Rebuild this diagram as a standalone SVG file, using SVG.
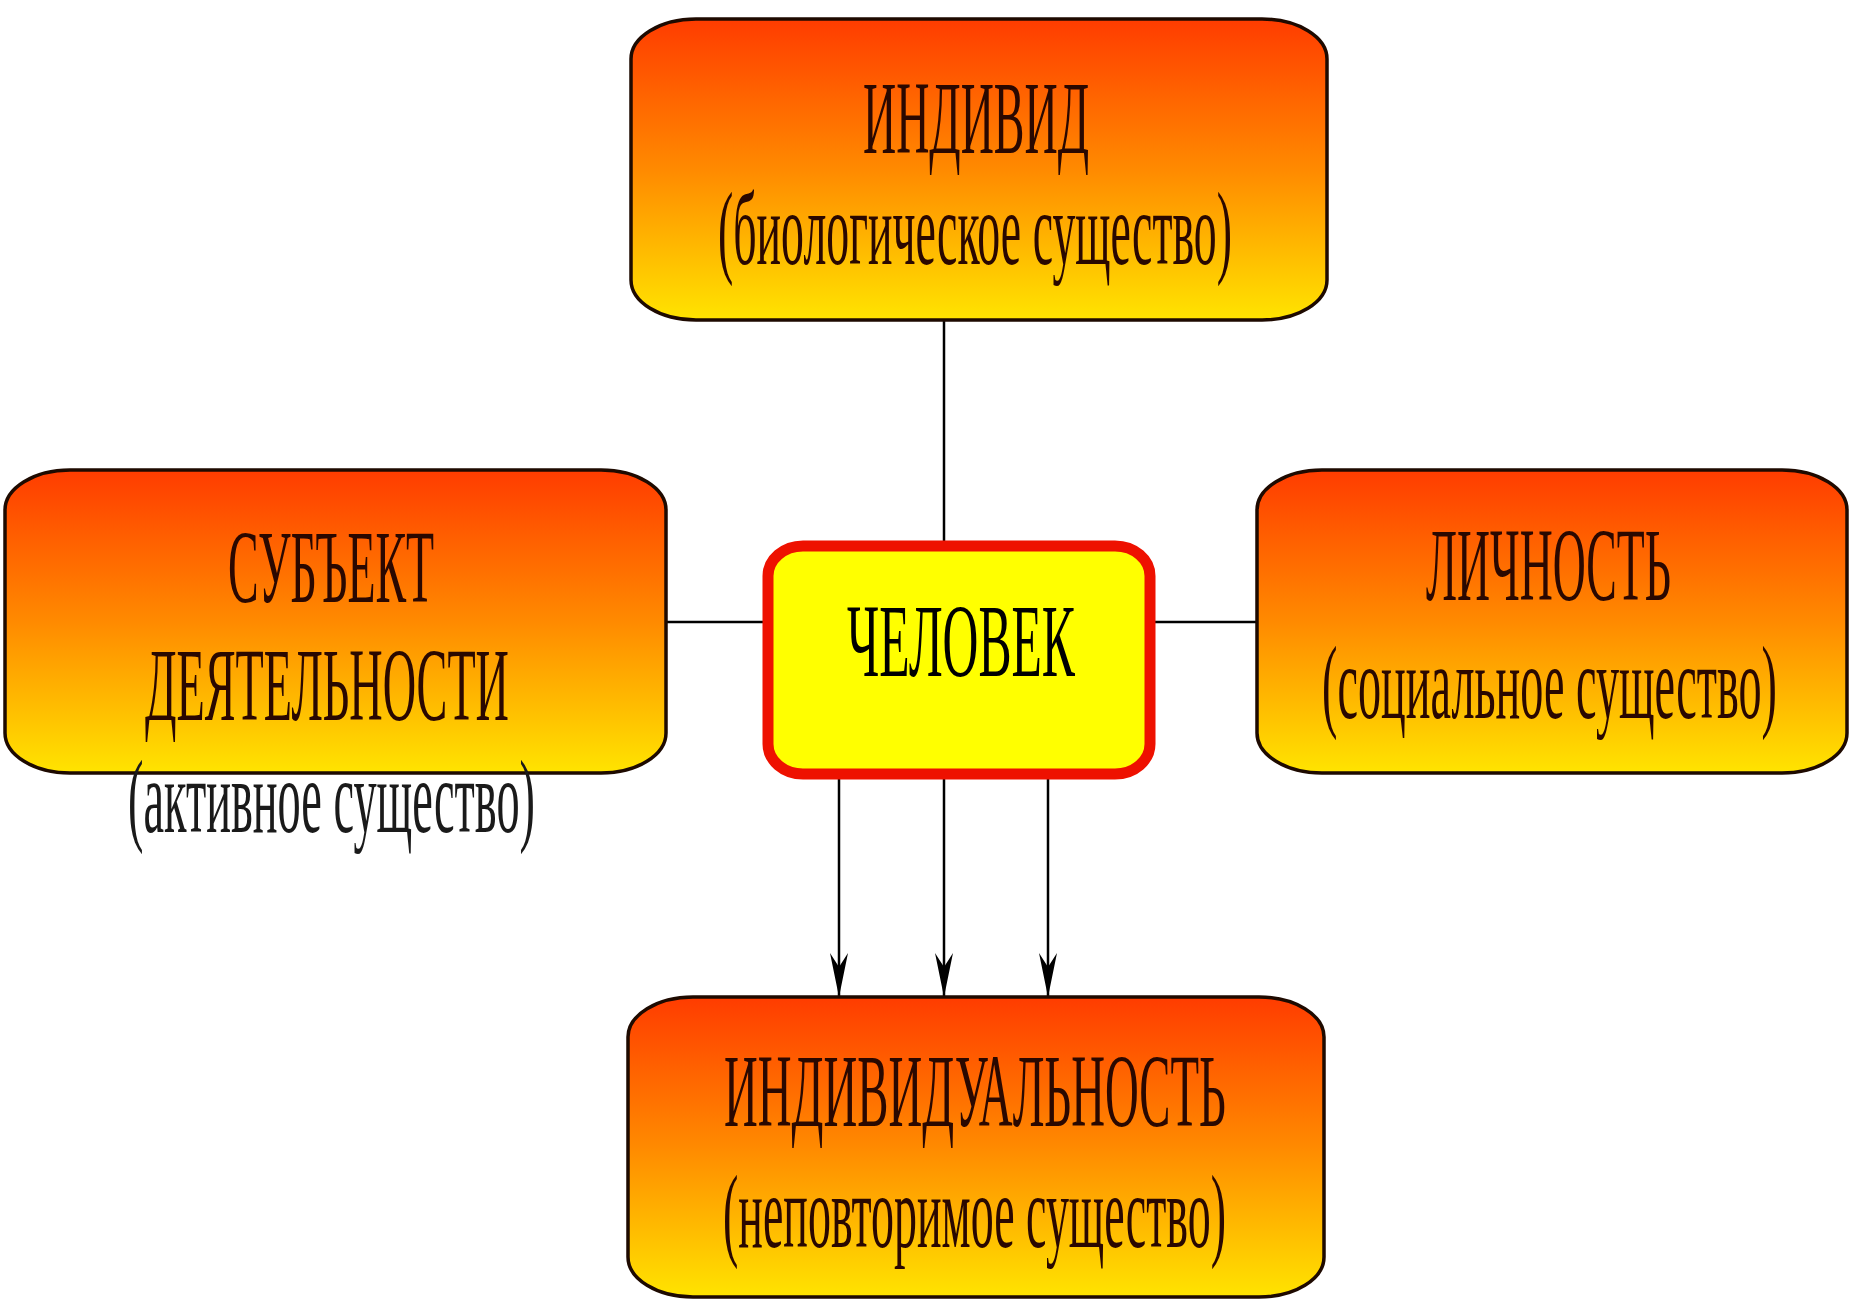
<svg xmlns="http://www.w3.org/2000/svg" width="1849" height="1301" viewBox="0 0 1849 1301">
<defs>
<linearGradient id="g" x1="0" y1="0" x2="0" y2="1">
<stop offset="0" stop-color="#ff3c00"/>
<stop offset="0.5" stop-color="#ff8a00"/>
<stop offset="1" stop-color="#ffe400"/>
</linearGradient>
<marker id="arr" markerUnits="userSpaceOnUse" markerWidth="50" markerHeight="24" refX="0" refY="0" viewBox="-46 -12 50 24" orient="auto">
<path d="M0,0 L-44,-9 L-30,0 L-44,9 Z" fill="#000"/>
</marker>
<style>
.box{fill:url(#g);stroke:#1e0a00;stroke-width:3.5}
.t{font-family:"Liberation Serif","DejaVu Serif",serif;font-size:104px;fill:#2a0800}
.c{fill:none;stroke:#000;stroke-width:2.5}
</style>
</defs>
<rect width="1849" height="1301" fill="#fff"/>
<g id="connectors">
<line class="c" x1="944" y1="320" x2="944" y2="548"/>
<line class="c" x1="666" y1="622" x2="768" y2="622"/>
<line class="c" x1="1150" y1="622" x2="1257" y2="622"/>
<line class="c" x1="839" y1="778" x2="839" y2="997" marker-end="url(#arr)"/>
<line class="c" x1="944" y1="778" x2="944" y2="997" marker-end="url(#arr)"/>
<line class="c" x1="1048" y1="778" x2="1048" y2="997" marker-end="url(#arr)"/>
</g>
<g id="individ">
<rect class="box" x="631" y="19" width="696" height="301" rx="65" ry="40"/>
<text class="t" transform="translate(863,153) scale(0.43,1)" textLength="525.6" lengthAdjust="spacingAndGlyphs">ИНДИВИД</text>
<text class="t" transform="translate(718,264) scale(0.43,1)" textLength="1195.3" lengthAdjust="spacingAndGlyphs">(биологическое существо)</text>
</g>
<g id="subject">
<rect class="box" x="5" y="470" width="661" height="303" rx="65" ry="40"/>
<text class="t" transform="translate(228,602) scale(0.43,1)" textLength="479.1" lengthAdjust="spacingAndGlyphs">СУБЪЕКТ</text>
<text class="t" transform="translate(145,720) scale(0.43,1)" textLength="846.5" lengthAdjust="spacingAndGlyphs">ДЕЯТЕЛЬНОСТИ</text>
<text class="t" transform="translate(128,832) scale(0.43,1)" textLength="946.5" lengthAdjust="spacingAndGlyphs" style="fill:#1a1a1a">(активное существо)</text>
</g>
<g id="lichnost">
<rect class="box" x="1257" y="470" width="590" height="303" rx="65" ry="40"/>
<text class="t" transform="translate(1426,600) scale(0.43,1)" textLength="569.8" lengthAdjust="spacingAndGlyphs">ЛИЧНОСТЬ</text>
<text class="t" transform="translate(1322,718) scale(0.43,1)" textLength="1058.1" lengthAdjust="spacingAndGlyphs">(социальное существо)</text>
</g>
<g id="chelovek">
<rect x="768" y="546" width="382" height="228" rx="35" ry="30" fill="#ffff00" stroke="#ee1100" stroke-width="11"/>
<text class="t" transform="translate(847,676) scale(0.43,1)" textLength="530.2" lengthAdjust="spacingAndGlyphs" style="fill:#000">ЧЕЛОВЕК</text>
</g>
<g id="individualnost">
<rect class="box" x="628" y="997" width="696" height="300" rx="65" ry="40"/>
<text class="t" transform="translate(724,1126) scale(0.43,1)" textLength="1167.4" lengthAdjust="spacingAndGlyphs">ИНДИВИДУАЛЬНОСТЬ</text>
<text class="t" transform="translate(723,1247) scale(0.43,1)" textLength="1169.8" lengthAdjust="spacingAndGlyphs">(неповторимое существо)</text>
</g>
</svg>
